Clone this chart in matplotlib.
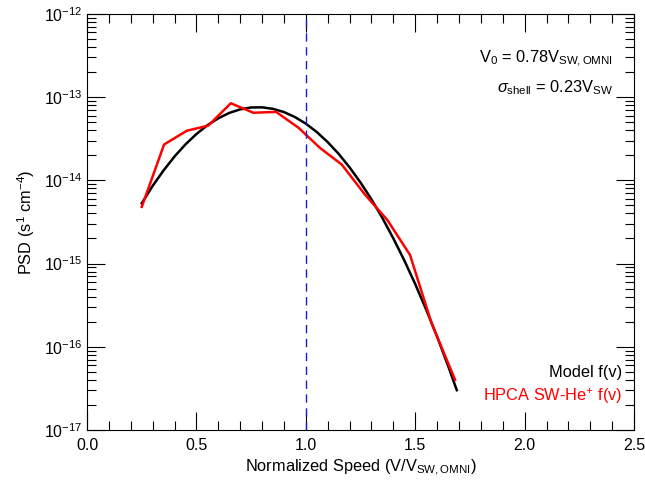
import matplotlib
matplotlib.use("Agg")
import matplotlib.pyplot as plt
from matplotlib.ticker import MultipleLocator, FixedLocator, LogLocator, LogFormatterSciNotation, NullFormatter

plt.rcParams['font.family'] = ['Liberation Sans', 'DejaVu Sans']
plt.rcParams['mathtext.fontset'] = 'custom'
plt.rcParams['mathtext.rm'] = 'Liberation Sans'
plt.rcParams['mathtext.it'] = 'Liberation Sans:italic'
plt.rcParams['mathtext.bf'] = 'Liberation Sans:bold'

# HPCA measured PSD (red)
hpca_v = [0.250, 0.352, 0.456, 0.554, 0.657, 0.760, 0.864, 0.966,
          1.065, 1.164, 1.271, 1.372, 1.476, 1.575, 1.682]
hpca_psd = [4.8e-15, 2.7e-14, 3.95e-14, 4.55e-14, 8.45e-14, 6.5e-14, 6.65e-14, 4.3e-14,
            2.45e-14, 1.55e-14, 6.7e-15, 3.35e-15, 1.27e-15, 1.9e-16, 4.0e-17]

# model f(v)
model_v = [0.25, 0.30, 0.35, 0.40, 0.45, 0.50, 0.55, 0.60, 0.65, 0.70, 0.75,
           0.80, 0.85, 0.90, 0.95, 1.00, 1.05, 1.10, 1.15, 1.20, 1.25, 1.30,
           1.35, 1.40, 1.45, 1.50, 1.55, 1.60, 1.65, 1.69]
model_psd = [5.3e-15, 8.6e-15, 1.32e-14, 1.94e-14, 2.71e-14, 3.61e-14, 4.6e-14, 5.58e-14,
             6.47e-14, 7.14e-14, 7.52e-14, 7.55e-14, 7.24e-14, 6.62e-14, 5.77e-14, 4.8e-14,
             3.81e-14, 2.88e-14, 2.08e-14, 1.43e-14, 9.4e-15, 5.9e-15, 3.52e-15, 2.0e-15,
             1.09e-15, 5.65e-16, 2.79e-16, 1.32e-16, 5.9e-17, 3.0e-17]

y_decades = [1e-17, 1e-16, 1e-15, 1e-14, 1e-13, 1e-12]
v_sw_line = 1.0

fig = plt.figure(figsize=(6.45, 4.83), dpi=100)
ax = fig.add_axes([0.135, 0.110, 0.848, 0.861])

ax.plot(model_v, model_psd, color='black', lw=1.8)
ax.plot(hpca_v, hpca_psd, color='#ff0000', lw=1.8)
ax.axvline(v_sw_line, color='#1a1ad0', lw=1.0, ls=(0, (6, 4)))

ax.set_yscale('log')
ax.set_xlim(0, 2.5)
ax.set_ylim(y_decades[0], y_decades[-1])

ax.xaxis.set_major_locator(MultipleLocator(0.5))
ax.xaxis.set_minor_locator(MultipleLocator(0.1))
ax.xaxis.set_major_formatter(plt.FuncFormatter(lambda x, p: f"{x:.1f}"))
ax.yaxis.set_major_locator(FixedLocator(y_decades))
ax.yaxis.set_minor_locator(LogLocator(base=10, subs=range(2, 10), numticks=20))
ax.yaxis.set_major_formatter(LogFormatterSciNotation())
ax.yaxis.set_minor_formatter(NullFormatter())

ax.tick_params(which='both', direction='in', top=True, right=True, labelsize=11.5, colors='black')
ax.tick_params(which='major', length=13, width=0.8)
ax.tick_params(which='minor', length=6.5, width=0.8)
ax.tick_params(axis='x', pad=6)
for s in ax.spines.values():
    s.set_linewidth(0.8)

ax.set_xlabel('Normalized Speed (V/V$_{\\rm SW,OMNI}$)', fontsize=11.8, labelpad=3)
ax.set_ylabel('PSD (s$^{1}$ cm$^{-4}$)', fontsize=11.8, labelpad=5)

ax.text(0.961, 0.892, 'V$_{0}$ = 0.78V$_{\\rm SW,OMNI}$', transform=ax.transAxes,
        ha='right', va='center', fontsize=11.8)
ax.text(0.961, 0.822, '$\\sigma_{\\rm shell}$ = 0.23V$_{\\rm SW}$', transform=ax.transAxes,
        ha='right', va='center', fontsize=11.8)

ax.text(0.978, 0.137, 'Model f(v)', transform=ax.transAxes,
        ha='right', va='center', fontsize=11.8, color='black')
ax.text(0.978, 0.082, 'HPCA SW-He$^{+}$ f(v)', transform=ax.transAxes,
        ha='right', va='center', fontsize=11.8, color='#ff0000')

fig.savefig('out.png', dpi=100)
